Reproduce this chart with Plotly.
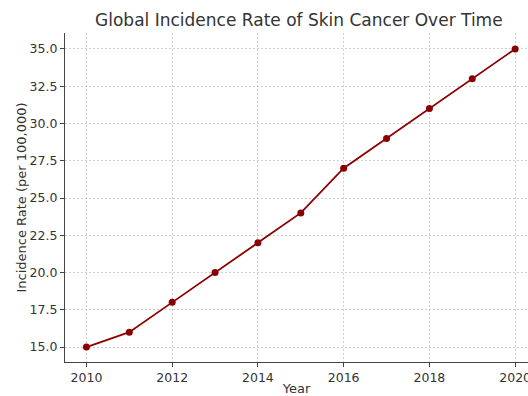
import plotly.graph_objects as go

years = [2010, 2011, 2012, 2013, 2014, 2015, 2016, 2017, 2018, 2019, 2020]
incidence = [15, 16, 18, 20, 22, 24, 27, 29, 31, 33, 35]
x_ticks = [2010, 2012, 2014, 2016, 2018, 2020]
y_ticks = [15.0, 17.5, 20.0, 22.5, 25.0, 27.5, 30.0, 32.5, 35.0]

fig = go.Figure(
    go.Scatter(
        x=years,
        y=incidence,
        mode="lines+markers",
        line=dict(color="#8B0000", width=1.8),
        marker=dict(color="#8B0000", size=7),
        cliponaxis=False,
    )
)

axis_common = dict(
    showline=True,
    linecolor="#444444",
    linewidth=1.2,
    ticks="outside",
    ticklen=4,
    tickcolor="#444444",
    showgrid=True,
    gridcolor="#cfcfcf",
    griddash="2px,2px",
    gridwidth=0.8,
    zeroline=False,
    automargin=False,
    ticklabeloverflow="allow",
    tickfont=dict(size=12.5, color="#333333"),
)

fig.update_layout(
    width=528,
    height=396,
    margin=dict(l=65, r=0, t=33, b=34),
    paper_bgcolor="white",
    plot_bgcolor="white",
    font=dict(family="DejaVu Sans", color="#333333"),
    showlegend=False,
    title=dict(
        text="Global Incidence Rate of Skin Cancer Over Time",
        x=0.566,
        xanchor="center",
        y=0.95,
        yanchor="middle",
        font=dict(size=17, color="#333333"),
    ),
    xaxis=dict(
        axis_common,
        range=[2009.5, 2020.3],
        tickvals=x_ticks,
        ticktext=[str(v) for v in x_ticks],
        title=dict(text="Year", font=dict(size=13, color="#333333"), standoff=9),
    ),
    yaxis=dict(
        axis_common,
        range=[14.0, 36.07],
        tickvals=y_ticks,
        ticktext=[f"{v:.1f}" for v in y_ticks],
        title=dict(text="Incidence Rate (per 100,000)", font=dict(size=13, color="#333333"), standoff=0),
    ),
)

fig.write_html("out.html")
